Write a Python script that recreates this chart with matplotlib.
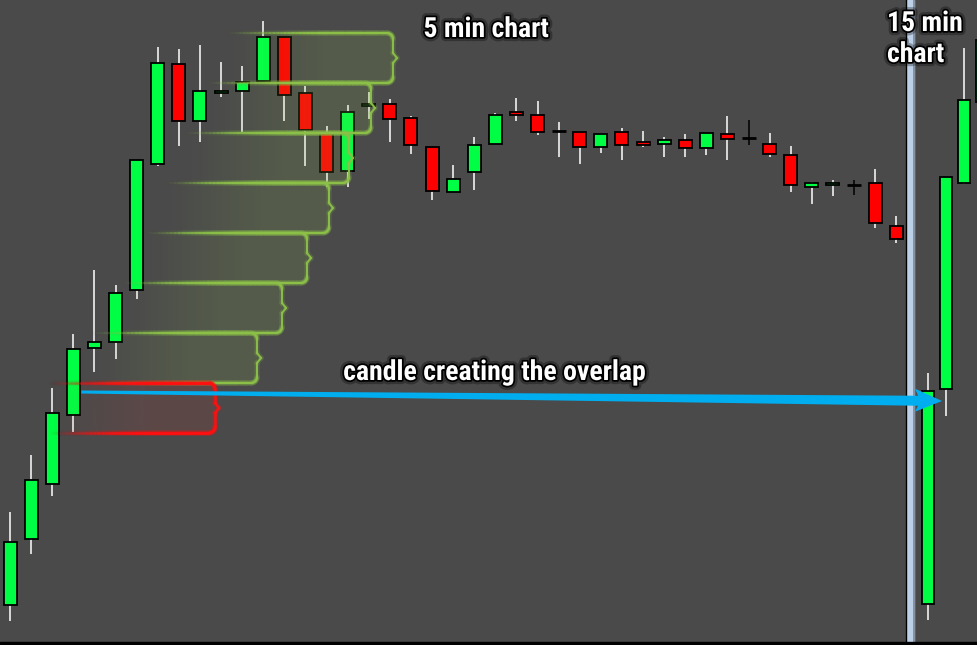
import numpy as np
import matplotlib
matplotlib.use("Agg")
import matplotlib.pyplot as plt
from matplotlib.collections import LineCollection
import matplotlib.patheffects as pe
from matplotlib import font_manager
from matplotlib.colors import to_rgb

# ---------------- data (price units) ----------------
opens5 = [40, 106, 161, 230, 297, 303, 355, 481, 581, 524, 552, 554, 564, 608, 552,
          512, 474, 539, 541, 527, 498, 453, 473, 501, 533, 530, 514, 513, 498, 513,
          503, 501, 505, 497, 511, 507, 501, 490, 458, 460, 460, 462, 419]
highs5 = [133, 190, 257, 311, 375, 360, 485, 598, 596, 600, 583, 579, 624, 608, 559,
          519, 540, 553, 546, 529, 498, 480, 508, 532, 547, 544, 523, 513, 511, 517,
          514, 508, 511, 512, 529, 525, 512, 499, 463, 465, 465, 476, 429]
lows5 = [24, 91, 149, 213, 273, 286, 346, 479, 499, 503, 548, 513, 564, 524, 479,
         458, 458, 526, 503, 491, 445, 453, 455, 501, 524, 510, 488, 481, 492, 485,
         498, 488, 488, 490, 485, 500, 488, 453, 441, 449, 450, 417, 402]
closes5 = [103, 165, 232, 296, 303, 352, 485, 582, 524, 554, 554, 563, 608, 550, 515,
           473, 533, 541, 526, 500, 454, 466, 500, 530, 530, 513, 514, 498, 511, 500,
           500, 505, 497, 512, 506, 507, 491, 460, 462, 462, 460, 422, 406]
black_cross = [35, 40]

opens15 = [41, 256, 462, 543]
highs15 = [272, 468, 597, 605]
lows15 = [25, 229, 461, 543]
closes15 = [254, 468, 545, 605]

zone_tops = [612, 562, 512, 462, 412, 362, 312, 262]
zone_bottoms = [562, 512, 462, 412, 362, 312, 262, 212]
zone_right = [393, 371, 349, 329, 307, 282, 257, 215]
zone_left = [225, 205, 183, 163, 143, 120, 90, 48]
zone_kind = ["g", "g", "g", "g", "g", "g", "g", "r"]

arrow_from_candle = 3
arrow_start_price = 253
arrow_end_price = 244

title5 = "5 min chart"
title15 = ["15 min", "chart"]
label_arrow = "candle creating the overlap"

# ---------------- style ----------------
BG = "#4a4a4a"
GREEN = "#00ff44"
RED = "#ff0000"
W, H = 977, 645

names = {f.name for f in font_manager.fontManager.ttflist}
FONT = None
for cand in ["Liberation Sans Narrow", "Roboto Condensed", "Open Sans Condensed"]:
    if cand in names:
        FONT = dict(family=[cand, "DejaVu Sans"], fontweight="bold")
        FS = 20
        break
if FONT is None:
    FONT = dict(family=["Roboto", "DejaVu Sans"], fontweight="bold")
    FS = 17.5

fig = plt.figure(figsize=(W / 100, H / 100), dpi=100, facecolor=BG)
ax = fig.add_axes([0, 0, 1, 1])
ax.set_facecolor(BG)
ax.axis("off")

x5 = 10 + 21.1 * np.arange(len(opens5))
x15 = 928 + 18 * np.arange(len(opens15))


def candles(xs, o, h, l, c, width, black=()):
    o, h, l, c = map(np.asarray, (o, h, l, c))
    for i, x in enumerate(xs):
        wc = "black" if i in black else "white"
        if h[i] > l[i]:
            ax.vlines(x, l[i], h[i], color=wc, lw=1.1, zorder=2)
        if o[i] == c[i]:
            ax.hlines(o[i], x - width / 2 - 0.5, x + width / 2 + 0.5, color="black",
                      lw=2.0, zorder=3)
        else:
            col = GREEN if c[i] > o[i] else RED
            ax.bar(x, abs(c[i] - o[i]), bottom=min(o[i], c[i]), width=width,
                   color=col, edgecolor="black", linewidth=1.3, zorder=3)


candles(x5, opens5, highs5, lows5, closes5, 13, black_cross)
candles(x15, opens15, highs15, lows15, closes15, 12)


def zone(top, bottom, right, left, line_col, fill_col, fill_alpha, lw):
    r = 6
    fade = 100
    pts = []
    for x in np.linspace(left, right - r, 120):
        pts.append((x, top))
    for t in np.linspace(90, 0, 10):
        pts.append((right - r + r * np.cos(np.radians(t)), top - r + r * np.sin(np.radians(t))))
    mid = (top + bottom) / 2
    pts += [(right, mid + 5), (right + 4, mid), (right, mid - 5)]
    for t in np.linspace(0, -90, 10):
        pts.append((right - r + r * np.cos(np.radians(t)), bottom + r + r * np.sin(np.radians(t))))
    for x in np.linspace(right - r, left, 120):
        pts.append((x, bottom))
    pts = np.array(pts)
    segs = np.stack([pts[:-1], pts[1:]], axis=1)
    xm = segs[:, :, 0].mean(axis=1)
    a = np.clip((xm - left) / fade, 0, 1) ** 1.4
    rgb = np.array(to_rgb(line_col))
    cols = np.zeros((len(segs), 4))
    cols[:, :3] = rgb
    glow = cols.copy()
    glow[:, 3] = a * 0.15
    cols[:, 3] = a * 0.95
    ax.add_collection(LineCollection(segs, colors=glow, linewidths=4, zorder=5,
                                     capstyle="round"))
    ax.add_collection(LineCollection(segs, colors=cols, linewidths=lw, zorder=5,
                                     capstyle="round"))
    n = 256
    img = np.zeros((1, n, 4))
    img[..., :3] = to_rgb(fill_col)
    xs = np.linspace(left, right, n)
    img[0, :, 3] = np.clip((xs - left) / fade, 0, 1) * fill_alpha
    ax.imshow(img, extent=(left, right, bottom, top), aspect="auto",
              interpolation="bilinear", zorder=4)


for t, b, rr, ll, k in zip(zone_tops, zone_bottoms, zone_right, zone_left, zone_kind):
    if k == "g":
        zone(t, b, rr, ll, "#8cc048", "#96c850", 0.14, 1.5)
    else:
        zone(t, b, rr, ll, "#ff1010", "#c83c3c", 0.15, 1.9)

# separator between 5 min and 15 min charts
ax.axvspan(906.5, 913.5, color="#bcd0e8", zorder=1)
ax.axvline(906, color="black", lw=1.0, zorder=1)
ax.axvline(914.3, color="#7d8794", lw=1.2, zorder=1)

# arrow
start = np.array([x5[arrow_from_candle] + 8, arrow_start_price])
tip = np.array([942.0, arrow_end_price])
d = (tip - start) / np.linalg.norm(tip - start)
nrm = np.array([-d[1], d[0]])
shaft_end = tip - d * 24
poly = np.array([start + nrm * 1.5, shaft_end + nrm * 5, shaft_end - d * 3 + nrm * 12,
                 tip, shaft_end - d * 3 - nrm * 11, shaft_end - nrm * 5, start - nrm * 1.5])
ax.fill(poly[:, 0], poly[:, 1], color="#00aeef", zorder=6, lw=0)

# bottom edge
ax.axhspan(0, 3, color="black", zorder=7)

# texts
fx = [pe.Stroke(linewidth=6, foreground="black", alpha=0.3),
      pe.Stroke(linewidth=2.5, foreground="black"), pe.Normal()]
ax.text(486, 608, title5, color="white", fontsize=FS, ha="center", va="baseline",
        path_effects=fx, zorder=8, **FONT)
ax.text(887, 614, title15[0], color="white", fontsize=FS, ha="left", va="baseline",
        path_effects=fx, zorder=8, **FONT)
ax.text(887, 583, title15[1], color="white", fontsize=FS, ha="left", va="baseline",
        path_effects=fx, zorder=8, **FONT)
ax.text(494, 265, label_arrow, color="white", fontsize=FS, ha="center", va="baseline",
        path_effects=fx, zorder=8, **FONT)

ax.set_xlim(0, W)
ax.set_ylim(0, H)
fig.savefig("out.png", dpi=100, facecolor=BG)
